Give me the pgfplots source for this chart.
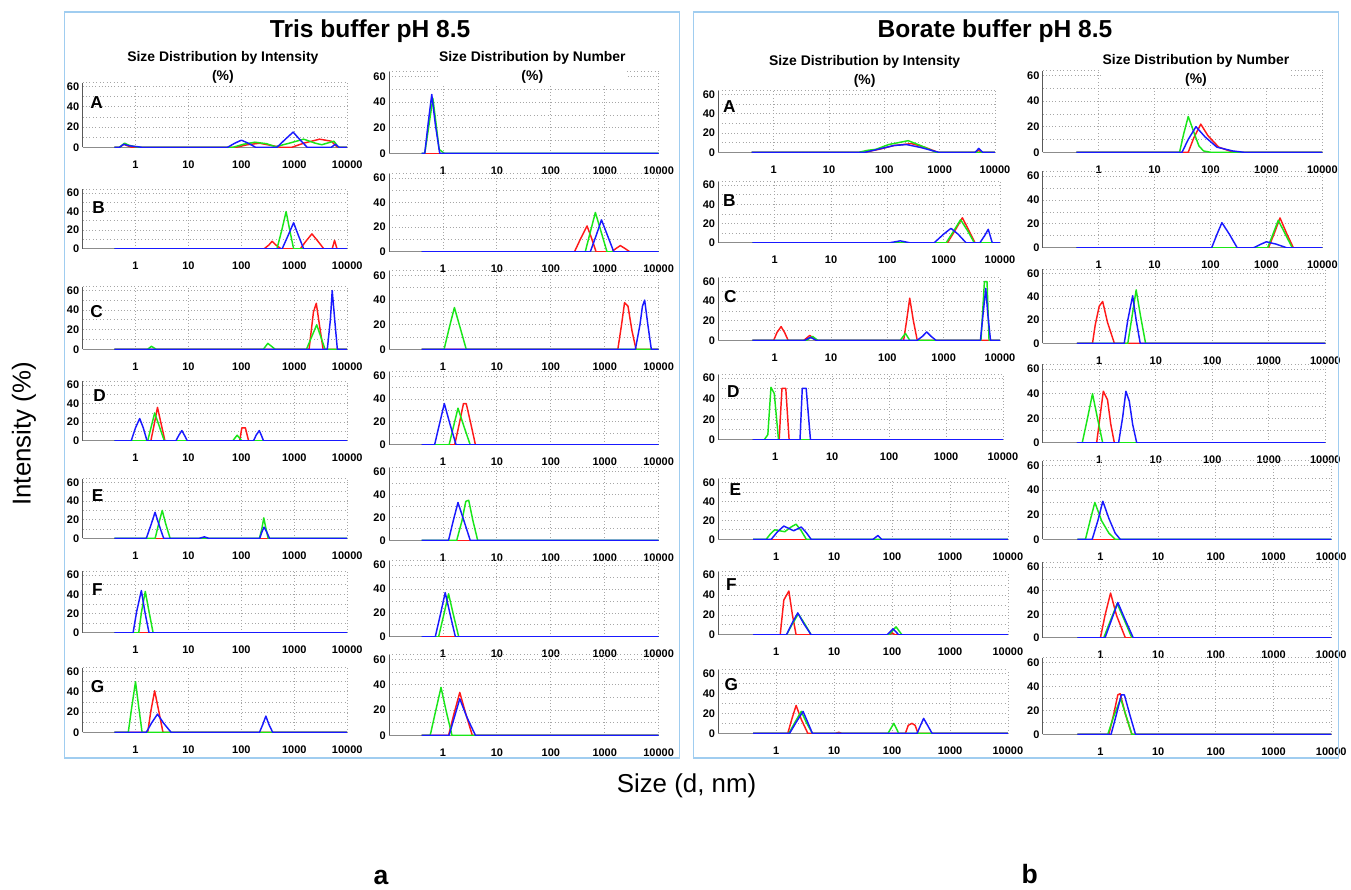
\documentclass[border=0pt]{standalone}
\usepackage{fontspec}
\setmainfont{Liberation Sans}
\usepackage{pgfplots}
\pgfplotsset{compat=1.18}
\definecolor{cR}{RGB}{255,25,25}
\definecolor{cG}{RGB}{25,230,25}
\definecolor{cB}{RGB}{25,25,255}
\definecolor{boxblue}{RGB}{160,205,240}
\newcommand{\ticklab}{\fontsize{8.3}{9}\selectfont\bfseries}
\newcommand{\setpos}[4]{%
  \pgfmathsetmacro\dlsW{(#2-#1)*0.75}%
  \pgfmathsetmacro\dlsH{(#3-#4)*0.75*64/60}%
  \pgfmathsetmacro\dlsX{#1*0.75}%
  \pgfmathsetmacro\dlsY{-#3*0.75}%
}
\pgfplotsset{
  every axis/.append style={
    at={(\dlsX pt,\dlsY pt)}, anchor=south west, width=\dlsW pt, height=\dlsH pt,
    scale only axis, xmin=0.1, xmax=10000, ymin=0, ymax=64,
    axis x line*=bottom, axis y line*=left,
    x axis line style={draw=black!45, line width=1pt},
    y axis line style={draw=black!65, line width=0.6pt},
    xtick={1,10,100,1000,10000},
    xticklabels={1,10,100,1000,10000},
    ytick={0,20,40,60}, yticklabels={0,20,40,60},
    minor ytick={10,30,50},
    xmajorgrids, ymajorgrids, yminorgrids,
    grid style={dotted, black!35, line width=0.6pt},
    minor grid style={dotted, black!35, line width=0.6pt},
    tick style={draw=none},
    ticklabel style={font=\ticklab},
    xticklabel style={yshift=-6.5pt},
    yticklabel style={xshift=1pt},
    after end axis/.code={\draw[dotted, black!35, line width=0.6pt] (rel axis cs:0,1) -- (rel axis cs:1,1);},
  },
  every axis plot/.append style={line width=1.1pt, line join=round, mark=none},
}
\begin{document}
\begin{tikzpicture}
\begin{scope}[x=0.75pt,y=-0.75pt]
\useasboundingbox (0,0) rectangle (1351,888);
\fill[white] (0,0) rectangle (1351,888);
\end{scope}

%%%%%%%%%%%%%%%% TRIS - INTENSITY %%%%%%%%%%%%%%%%
\setpos{83}{349}{148}{87}
\begin{semilogxaxis}
\addplot[cR] coordinates {(0.4,0)(0.5,0)(0.6,3)(0.7,1.5)(0.85,0)(80,0)(130,2.5)(220,4)(350,2)(550,0)(900,0)(1500,4)(3000,8)(5000,6)(6500,0)(10000,0)};
\addplot[cG] coordinates {(0.4,0)(0.5,0)(0.62,4)(0.75,2)(1.0,0.5)(1.2,0)(70,0)(110,3)(180,5)(300,3.5)(440,0.5)(800,4)(1500,8)(2500,4)(3300,2.5)(5600,6)(6800,0)(10000,0)};
\addplot[cB] coordinates {(0.4,0)(0.5,0)(0.6,3)(0.75,1.5)(1.1,0.5)(1.3,0)(55,0)(75,4)(100,7)(135,4)(185,0)(470,0)(680,8)(950,15)(1250,8)(1750,0)(5000,0)(6000,3)(7000,0)(10000,0)};
\end{semilogxaxis}
\setpos{83}{349}{250}{194}
\begin{semilogxaxis}
\addplot[cR] coordinates {(0.4,0)(270,0)(330,4)(380,8)(450,4)(560,0)(1300,0)(1650,8)(2150,16)(2800,8)(3600,0)(5200,0)(5760,9)(6400,0)(10000,0)};
\addplot[cG] coordinates {(0.4,0)(470,0)(580,20)(700,40)(820,20)(970,0)(10000,0)};
\addplot[cB] coordinates {(0.4,0)(590,0)(760,14)(970,28)(1200,14)(1500,0)(10000,0)};
\end{semilogxaxis}
\setpos{83}{349}{351}{292}
\begin{semilogxaxis}
\addplot[cR] coordinates {(0.4,0)(1900,0)(2300,38)(2600,47)(3000,24)(3500,0)(10000,0)};
\addplot[cG] coordinates {(0.4,0)(1.7,0)(2.0,3)(2.45,0)(260,0)(316,6)(435,0)(1700,0)(2100,12)(2650,25)(3200,12)(3800,0)(10000,0)};
\addplot[cB] coordinates {(0.4,0)(4200,0)(4800,30)(5200,60)(5800,30)(6500,0)(10000,0)};
\end{semilogxaxis}
\setpos{83}{349}{443}{387}
\begin{semilogxaxis}
\addplot[cR] coordinates {(0.4,0)(1.95,0)(2.3,20)(2.6,36)(3.0,20)(3.6,0)(93,0)(102,14)(119,14)(137,0)(10000,0)};
\addplot[cG] coordinates {(0.4,0)(1.7,0)(2.0,16)(2.3,30)(2.8,16)(3.5,0)(69,0)(83,6)(102,0)(10000,0)};
\addplot[cB] coordinates {(0.4,0)(0.83,0)(1.0,14)(1.2,24)(1.4,14)(1.65,0)(5.8,0)(6.6,6)(7.5,11)(8.4,6)(9.5,0)(170,0)(190,6)(218,11)(238,6)(262,0)(10000,0)};
\end{semilogxaxis}
\setpos{83}{349}{541}{485}
\begin{semilogxaxis}
\addplot[cR] coordinates {(0.4,0)(10000,0)};
\addplot[cG] coordinates {(0.4,0)(2.35,0)(2.75,16)(3.2,30)(3.7,16)(4.5,0)(220,0)(245,11)(265,22)(290,11)(320,0)(10000,0)};
\addplot[cB] coordinates {(0.4,0)(1.6,0)(1.95,14)(2.34,28)(2.8,14)(3.4,0)(16,0)(20,1.5)(24,0)(222,0)(245,7)(268,12)(300,7)(340,0)(10000,0)};
\end{semilogxaxis}
\setpos{83}{349}{636}{578}
\begin{semilogxaxis}
\addplot[cR] coordinates {(0.4,0)(10000,0)};
\addplot[cG] coordinates {(0.4,0)(1.15,0)(1.3,22)(1.53,43)(1.8,22)(2.15,0)(10000,0)};
\addplot[cB] coordinates {(0.4,0)(0.9,0)(1.05,22)(1.29,44)(1.5,22)(1.8,0)(10000,0)};
\end{semilogxaxis}
\setpos{83}{349}{736}{675}
\begin{semilogxaxis}
\addplot[cR] coordinates {(0.4,0)(1.7,0)(1.95,21)(2.3,41)(2.75,21)(3.3,0)(10000,0)};
\addplot[cG] coordinates {(0.4,0)(0.73,0)(0.85,25)(1.0,50)(1.15,25)(1.33,0)(10000,0)};
\addplot[cB] coordinates {(0.4,0)(1.6,0)(2.0,9)(2.6,18)(3.4,9)(4.7,0)(220,0)(255,8)(290,16)(330,8)(390,0)(10000,0)};
\end{semilogxaxis}

%%%%%%%%%%%%%%%% TRIS - NUMBER %%%%%%%%%%%%%%%%
\setpos{391}{662}{154}{77}
\begin{semilogxaxis}
\addplot[cR] coordinates {(0.4,0)(10000,0)};
\addplot[cG] coordinates {(0.4,0)(0.46,0)(0.55,22)(0.65,43)(0.75,22)(0.85,3)(1.05,0)(10000,0)};
\addplot[cB] coordinates {(0.4,0)(0.46,0)(0.53,23)(0.62,46)(0.72,23)(0.87,0)(10000,0)};
\end{semilogxaxis}
\setpos{391}{662}{253}{179}
\begin{semilogxaxis}
\addplot[cR] coordinates {(0.4,0)(275,0)(360,11)(470,21)(570,11)(690,0)(1350,0)(1600,2.5)(1950,5)(2400,2.5)(2900,0)(10000,0)};
\addplot[cG] coordinates {(0.4,0)(435,0)(540,16)(670,32)(860,16)(1100,0)(10000,0)};
\addplot[cB] coordinates {(0.4,0)(540,0)(690,13)(870,26)(1130,13)(1470,0)(10000,0)};
\end{semilogxaxis}
\setpos{391}{662}{351}{277}
\begin{semilogxaxis}
\addplot[cR] coordinates {(0.4,0)(1750,0)(2050,20)(2330,38)(2700,35)(3200,15)(3800,0)(10000,0)};
\addplot[cG] coordinates {(0.4,0)(1.05,0)(1.3,17)(1.63,34)(2.1,17)(2.7,0)(10000,0)};
\addplot[cB] coordinates {(0.4,0)(3700,0)(4500,20)(5000,35)(5500,40)(6300,20)(7300,0)(10000,0)};
\end{semilogxaxis}
\setpos{391}{662}{447}{378}
\begin{semilogxaxis}
\addplot[cR] coordinates {(0.4,0)(1.65,0)(2.0,18)(2.4,36)(2.7,36)(3.3,18)(4.0,0)(10000,0)};
\addplot[cG] coordinates {(0.4,0)(1.3,0)(1.57,16)(1.9,32)(2.45,16)(3.2,0)(10000,0)};
\addplot[cB] coordinates {(0.4,0)(0.7,0)(0.86,18)(1.06,36)(1.35,18)(1.75,0)(10000,0)};
\end{semilogxaxis}
\setpos{391}{662}{543}{474}
\begin{semilogxaxis}
\addplot[cR] coordinates {(0.4,0)(10000,0)};
\addplot[cG] coordinates {(0.4,0)(1.8,0)(2.25,17)(2.65,34)(3.0,35)(3.6,17)(4.4,0)(10000,0)};
\addplot[cB] coordinates {(0.4,0)(1.27,0)(1.55,17)(1.9,33)(2.45,17)(3.2,0)(10000,0)};
\end{semilogxaxis}
\setpos{391}{662}{640}{568}
\begin{semilogxaxis}
\addplot[cR] coordinates {(0.4,0)(10000,0)};
\addplot[cG] coordinates {(0.4,0)(0.83,0)(1.03,18)(1.27,36)(1.57,18)(1.96,0)(10000,0)};
\addplot[cB] coordinates {(0.4,0)(0.72,0)(0.89,18)(1.1,37)(1.37,18)(1.7,0)(10000,0)};
\end{semilogxaxis}
\setpos{391}{662}{739}{663}
\begin{semilogxaxis}
\addplot[cR] coordinates {(0.4,0)(1.27,0)(1.6,17)(2.05,34)(2.65,17)(3.5,0)(10000,0)};
\addplot[cG] coordinates {(0.4,0)(0.58,0)(0.73,19)(0.92,38)(1.15,19)(1.47,0)(10000,0)};
\addplot[cB] coordinates {(0.4,0)(1.3,0)(1.62,14)(2.05,29)(2.8,14)(4.0,0)(10000,0)};
\end{semilogxaxis}

%%%%%%%%%%%%%%%% BORATE - INTENSITY %%%%%%%%%%%%%%%%
\setpos{722}{1000}{153}{95}
\begin{semilogxaxis}
\addplot[cR] coordinates {(0.4,0)(44,0)(80,3)(150,7)(310,9)(550,5)(920,0)(4500,0)(5000,2)(5800,0)(10000,0)};
\addplot[cG] coordinates {(0.4,0)(35,0)(50,2)(70,3)(120,8)(270,12)(450,7)(860,0)(10000,0)};
\addplot[cB] coordinates {(0.4,0)(45,0)(90,4)(150,7)(250,8)(450,5)(950,0)(4400,0)(5100,4)(6000,0)(10000,0)};
\end{semilogxaxis}
\setpos{722}{1005}{244}{186}
\begin{semilogxaxis}
\addplot[cR] coordinates {(0.4,0)(1170,0)(1600,13)(2150,26)(2800,13)(3600,0)(10000,0)};
\addplot[cG] coordinates {(0.4,0)(1110,0)(1500,12)(2000,24)(2700,12)(3500,0)(10000,0)};
\addplot[cB] coordinates {(0.4,0)(110,0)(170,2)(250,0)(680,0)(1000,9)(1350,15)(1800,9)(2500,0)(4400,0)(5300,7)(6200,14)(7300,0)(10000,0)};
\end{semilogxaxis}
\setpos{722}{1005}{342}{283}
\begin{semilogxaxis}
\addplot[cR] coordinates {(0.4,0)(0.96,0)(1.1,8)(1.3,14)(1.5,8)(1.73,0)(3.3,0)(4.2,5)(5.4,0)(195,0)(220,20)(250,43)(290,20)(340,0)(10000,0)};
\addplot[cG] coordinates {(0.4,0)(3.7,0)(4.7,4)(5.8,0)(170,0)(210,7)(250,0)(4600,0)(5300,60)(5900,60)(6400,0)(10000,0)};
\addplot[cB] coordinates {(0.4,0)(3.4,0)(4.3,3)(5.5,0)(340,0)(420,4)(500,8.5)(600,4)(730,0)(4500,0)(5000,26)(5600,53)(6100,26)(6800,0)(10000,0)};
\end{semilogxaxis}
\setpos{722}{1008}{442}{380}
\begin{semilogxaxis}
\addplot[cR] coordinates {(0.4,0)(1.17,0)(1.31,50)(1.53,50)(1.75,0)(10000,0)};
\addplot[cG] coordinates {(0.4,0)(0.64,0)(0.74,5)(0.84,51)(0.96,45)(1.14,0)(10000,0)};
\addplot[cB] coordinates {(0.4,0)(2.72,0)(2.98,50)(3.49,50)(4.15,0)(10000,0)};
\end{semilogxaxis}
\setpos{722}{1013}{542}{485}
\begin{semilogxaxis}
\addplot[cR] coordinates {(0.4,0)(10000,0)};
\addplot[cG] coordinates {(0.4,0)(0.67,0)(0.8,6)(0.94,10)(1.4,8)(1.8,13)(2.2,16)(2.7,9)(3.3,0)(10000,0)};
\addplot[cB] coordinates {(0.4,0)(0.82,0)(1.05,8)(1.35,14)(2.0,9)(2.7,13)(3.3,7)(4.0,0)(47,0)(57,4)(66,0)(10000,0)};
\end{semilogxaxis}
\setpos{722}{1013}{638}{578}
\begin{semilogxaxis}
\addplot[cR] coordinates {(0.4,0)(1.17,0)(1.35,35)(1.65,44)(1.9,20)(2.2,0)(90,0)(100,2)(112,0)(10000,0)};
\addplot[cG] coordinates {(0.4,0)(1.5,0)(1.9,11)(2.4,21)(3.1,11)(4.0,0)(88,0)(117,8)(148,0)(10000,0)};
\addplot[cB] coordinates {(0.4,0)(1.5,0)(1.85,11)(2.35,22)(3.0,11)(4.0,0)(82,0)(104,6)(130,0)(10000,0)};
\end{semilogxaxis}
\setpos{722}{1013}{737}{677}
\begin{semilogxaxis}
\addplot[cR] coordinates {(0.4,0)(1.58,0)(1.85,14)(2.2,28)(2.7,14)(3.5,0)(10.5,0)(12,1)(13.5,0)(170,0)(190,8)(220,10)(250,8)(280,0)(10000,0)};
\addplot[cG] coordinates {(0.4,0)(1.65,0)(2.1,11)(2.7,22)(3.3,11)(4.2,0)(85,0)(107,10)(130,0)(10000,0)};
\addplot[cB] coordinates {(0.4,0)(1.7,0)(2.2,11)(2.9,22)(3.5,11)(4.2,0)(270,0)(310,8)(350,15)(410,8)(490,0)(10000,0)};
\end{semilogxaxis}

%%%%%%%%%%%%%%%% BORATE - NUMBER %%%%%%%%%%%%%%%%
\setpos{1048}{1329}{153}{76}
\begin{semilogxaxis}
\addplot[cR] coordinates {(0.4,0)(40,0)(50,11)(67,22)(90,13)(140,4)(220,1)(300,0)(10000,0)};
\addplot[cG] coordinates {(0.4,0)(28,0)(33,14)(40,28)(52,14)(62,5)(75,1)(100,0)(10000,0)};
\addplot[cB] coordinates {(0.4,0)(31,0)(40,10)(55,20)(80,12)(130,4)(250,1)(390,0)(10000,0)};
\end{semilogxaxis}
\setpos{1048}{1329}{249}{177}
\begin{semilogxaxis}
\addplot[cR] coordinates {(0.4,0)(1090,0)(1380,12)(1750,25)(2300,12)(3030,0)(10000,0)};
\addplot[cG] coordinates {(0.4,0)(1050,0)(1300,11)(1630,23)(2200,11)(2900,0)(10000,0)};
\addplot[cB] coordinates {(0.4,0)(105,0)(130,11)(160,21)(220,11)(300,0)(590,0)(800,3)(1000,5)(1500,3)(2300,0)(10000,0)};
\end{semilogxaxis}
\setpos{1048}{1332}{345}{275}
\begin{semilogxaxis}
\addplot[cR] coordinates {(0.4,0)(0.76,0)(0.85,16)(1.0,32)(1.15,36)(1.4,18)(1.85,0)(10000,0)};
\addplot[cG] coordinates {(0.4,0)(3.2,0)(3.8,23)(4.5,46)(5.4,23)(6.6,0)(10000,0)};
\addplot[cB] coordinates {(0.4,0)(2.77,0)(3.2,20)(3.9,41)(4.5,20)(5.3,0)(10000,0)};
\end{semilogxaxis}
\setpos{1048}{1332}{445}{371}
\begin{semilogxaxis}
\addplot[cR] coordinates {(0.4,0)(0.9,0)(1.03,21)(1.18,42)(1.4,35)(1.6,15)(1.85,0)(10000,0)};
\addplot[cG] coordinates {(0.4,0)(0.5,0)(0.62,20)(0.76,40)(0.93,20)(1.15,0)(10000,0)};
\addplot[cB] coordinates {(0.4,0)(2.2,0)(2.6,21)(2.96,42)(3.4,34)(3.9,15)(4.6,0)(10000,0)};
\end{semilogxaxis}
\setpos{1048}{1338}{542}{468}
\begin{semilogxaxis}
\addplot[cR] coordinates {(0.4,0)(10000,0)};
\addplot[cG] coordinates {(0.4,0)(0.55,0)(0.66,15)(0.8,30)(1.05,15)(1.4,5)(1.8,0)(10000,0)};
\addplot[cB] coordinates {(0.4,0)(0.72,0)(0.9,15)(1.1,31)(1.4,17)(1.8,5)(2.2,0)(10000,0)};
\end{semilogxaxis}
\setpos{1048}{1338}{641}{570}
\begin{semilogxaxis}
\addplot[cR] coordinates {(0.4,0)(1.0,0)(1.2,19)(1.5,38)(1.9,19)(2.7,0)(10000,0)};
\addplot[cG] coordinates {(0.4,0)(1.14,0)(1.5,15)(1.95,29)(2.6,15)(3.5,0)(10000,0)};
\addplot[cB] coordinates {(0.4,0)(1.2,0)(1.55,15)(2.0,30)(2.7,15)(3.7,0)(10000,0)};
\end{semilogxaxis}
\setpos{1048}{1338}{738}{666}
\begin{semilogxaxis}
\addplot[cR] coordinates {(0.4,0)(1.4,0)(1.7,17)(2.0,33)(2.2,34)(2.7,17)(3.5,0)(10000,0)};
\addplot[cG] coordinates {(0.4,0)(1.34,0)(1.7,15)(2.24,30)(2.8,15)(3.5,0)(10000,0)};
\addplot[cB] coordinates {(0.4,0)(1.53,0)(1.9,17)(2.3,33)(2.6,33)(3.2,17)(4.05,0)(10000,0)};
\end{semilogxaxis}

\begin{scope}[x=0.75pt,y=-0.75pt]
\draw[boxblue, line width=1.1pt] (65,12) rectangle (683,762);
\draw[boxblue, line width=1.1pt] (697,12) rectangle (1345,762);
\node[font=\fontsize{18.5}{21}\selectfont\bfseries] at (372,31) {Tris buffer pH 8.5};
\node[font=\fontsize{18.5}{21}\selectfont\bfseries] at (1000,31) {Borate buffer pH 8.5};
\node[font=\fontsize{10.5}{14}\selectfont\bfseries, align=center, fill=white, inner sep=1pt] at (224,68) {Size Distribution by Intensity\\(\%)};
\node[font=\fontsize{10.5}{14}\selectfont\bfseries, align=center, fill=white, inner sep=1pt] at (535,68) {Size Distribution by Number\\(\%)};
\node[font=\fontsize{10.5}{14}\selectfont\bfseries, align=center, fill=white, inner sep=1pt] at (869,72) {Size Distribution by Intensity\\(\%)};
\node[font=\fontsize{10.5}{14}\selectfont\bfseries, align=center, fill=white, inner sep=1pt] at (1202,71) {Size Distribution by Number\\(\%)};
\node[rotate=90, font=\fontsize{19.5}{22}\selectfont] at (24,436) {Intensity (\%)};
\node[font=\fontsize{19.5}{22}\selectfont] at (690,790) {Size (d, nm)};
\node[font=\fontsize{20}{22}\selectfont\bfseries] at (383,882) {a};
\node[font=\fontsize{20}{22}\selectfont\bfseries] at (1035,878) {b};
\foreach \L/\X/\Y in {A/97/103, B/99/209, C/97/313, D/100/398, E/98/498, F/98/593, G/98/690,
                     A/733/107, B/733/202, C/734/298, D/737/394, E/739/492, F/735/588, G/735/688}
  \node[font=\fontsize{13}{15}\selectfont\bfseries] at (\X,\Y) {\L};
\end{scope}
\end{tikzpicture}
\end{document}
